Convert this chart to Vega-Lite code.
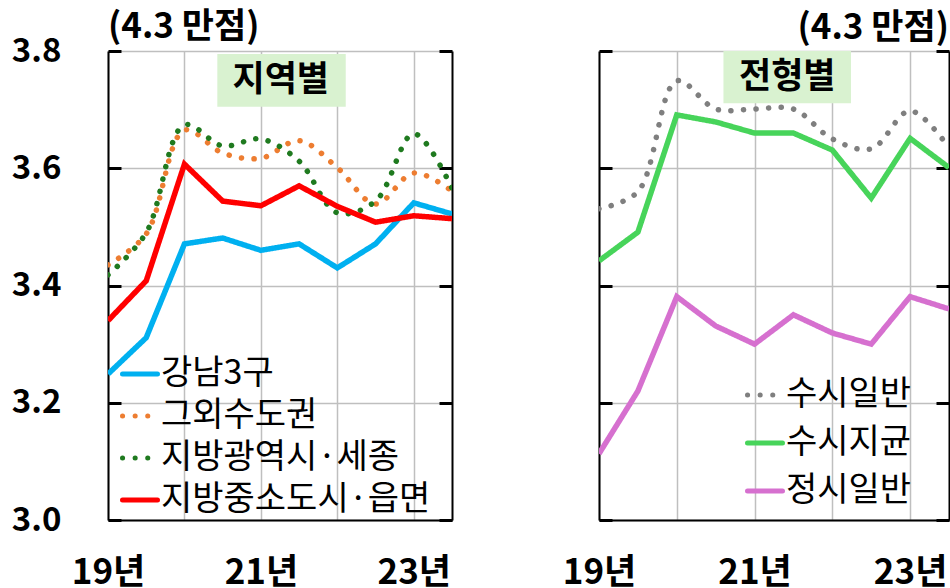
{
  "$schema": "https://vega.github.io/schema/vega-lite/v6.json",
  "background": "white",
  "padding": {"left": 11, "top": 10, "right": 0, "bottom": 0},
  "bounds": "flush",
  "spacing": 147,
  "resolve": {"scale": {"color": "independent", "strokeDash": "independent"}, "legend": {"color": "independent", "strokeDash": "independent"}},
  "config": {
    "view": {"stroke": null},
    "font": "Noto Sans CJK KR",
    "axis": {"labelFont": "Noto Sans CJK KR", "labelFontWeight": "bold", "labelFontSize": 33, "labelColor": "black", "domainColor": "black", "domainWidth": 2, "tickColor": "black", "tickWidth": 3, "gridColor": "#BFBFBF", "gridWidth": 1.5, "title": null},
    "title": {"font": "Noto Sans CJK KR", "fontSize": 35, "fontWeight": "bold", "color": "black", "frame": "group"},
    "legend": {"labelFont": "Noto Sans CJK KR", "labelFontSize": 34, "labelFontWeight": "normal", "labelColor": "black", "symbolType": "stroke", "symbolStrokeWidth": 5, "symbolSize": 1225, "labelOffset": 1, "padding": 0, "labelLimit": 400, "title": null}
  },
  "datasets": {
    "region": [
      {"t": 2019, "s": "강남3구", "v": 3.249}, {"t": 2019.5, "s": "강남3구", "v": 3.311}, {"t": 2020, "s": "강남3구", "v": 3.471}, {"t": 2020.5, "s": "강남3구", "v": 3.481}, {"t": 2021, "s": "강남3구", "v": 3.460}, {"t": 2021.5, "s": "강남3구", "v": 3.471}, {"t": 2022, "s": "강남3구", "v": 3.430}, {"t": 2022.5, "s": "강남3구", "v": 3.471}, {"t": 2023, "s": "강남3구", "v": 3.541}, {"t": 2023.5, "s": "강남3구", "v": 3.522},
      {"t": 2019, "s": "그외수도권", "v": 3.435}, {"t": 2019.5, "s": "그외수도권", "v": 3.488}, {"t": 2020, "s": "그외수도권", "v": 3.665}, {"t": 2020.5, "s": "그외수도권", "v": 3.626}, {"t": 2021, "s": "그외수도권", "v": 3.617}, {"t": 2021.5, "s": "그외수도권", "v": 3.647}, {"t": 2022, "s": "그외수도권", "v": 3.601}, {"t": 2022.5, "s": "그외수도권", "v": 3.539}, {"t": 2023, "s": "그외수도권", "v": 3.592}, {"t": 2023.5, "s": "그외수도권", "v": 3.561},
      {"t": 2019, "s": "지방광역시·세종", "v": 3.418}, {"t": 2019.5, "s": "지방광역시·세종", "v": 3.490}, {"t": 2020, "s": "지방광역시·세종", "v": 3.674}, {"t": 2020.5, "s": "지방광역시·세종", "v": 3.638}, {"t": 2021, "s": "지방광역시·세종", "v": 3.650}, {"t": 2021.5, "s": "지방광역시·세종", "v": 3.612}, {"t": 2022, "s": "지방광역시·세종", "v": 3.524}, {"t": 2022.5, "s": "지방광역시·세종", "v": 3.544}, {"t": 2023, "s": "지방광역시·세종", "v": 3.659}, {"t": 2023.5, "s": "지방광역시·세종", "v": 3.566},
      {"t": 2019, "s": "지방중소도시·읍면", "v": 3.340}, {"t": 2019.5, "s": "지방중소도시·읍면", "v": 3.408}, {"t": 2020, "s": "지방중소도시·읍면", "v": 3.607}, {"t": 2020.5, "s": "지방중소도시·읍면", "v": 3.544}, {"t": 2021, "s": "지방중소도시·읍면", "v": 3.536}, {"t": 2021.5, "s": "지방중소도시·읍면", "v": 3.570}, {"t": 2022, "s": "지방중소도시·읍면", "v": 3.535}, {"t": 2022.5, "s": "지방중소도시·읍면", "v": 3.508}, {"t": 2023, "s": "지방중소도시·읍면", "v": 3.519}, {"t": 2023.5, "s": "지방중소도시·읍면", "v": 3.514}
    ],
    "type": [
      {"t": 2019, "s": "수시일반", "v": 3.531}, {"t": 2019.5, "s": "수시일반", "v": 3.560}, {"t": 2020, "s": "수시일반", "v": 3.749}, {"t": 2020.5, "s": "수시일반", "v": 3.701}, {"t": 2021, "s": "수시일반", "v": 3.701}, {"t": 2021.5, "s": "수시일반", "v": 3.701}, {"t": 2022, "s": "수시일반", "v": 3.650}, {"t": 2022.5, "s": "수시일반", "v": 3.633}, {"t": 2023, "s": "수시일반", "v": 3.698}, {"t": 2023.5, "s": "수시일반", "v": 3.635},
      {"t": 2019, "s": "수시지균", "v": 3.442}, {"t": 2019.5, "s": "수시지균", "v": 3.491}, {"t": 2020, "s": "수시지균", "v": 3.691}, {"t": 2020.5, "s": "수시지균", "v": 3.679}, {"t": 2021, "s": "수시지균", "v": 3.660}, {"t": 2021.5, "s": "수시지균", "v": 3.660}, {"t": 2022, "s": "수시지균", "v": 3.631}, {"t": 2022.5, "s": "수시지균", "v": 3.549}, {"t": 2023, "s": "수시지균", "v": 3.651}, {"t": 2023.5, "s": "수시지균", "v": 3.601},
      {"t": 2019, "s": "정시일반", "v": 3.113}, {"t": 2019.5, "s": "정시일반", "v": 3.220}, {"t": 2020, "s": "정시일반", "v": 3.381}, {"t": 2020.5, "s": "정시일반", "v": 3.331}, {"t": 2021, "s": "정시일반", "v": 3.300}, {"t": 2021.5, "s": "정시일반", "v": 3.350}, {"t": 2022, "s": "정시일반", "v": 3.319}, {"t": 2022.5, "s": "정시일반", "v": 3.300}, {"t": 2023, "s": "정시일반", "v": 3.381}, {"t": 2023.5, "s": "정시일반", "v": 3.360}
    ]
  },
  "hconcat": [
    {
      "width": 344,
      "height": 469,
      "title": {"text": "(4.3 만점)", "anchor": "start", "offset": -10},
      "resolve": {"axis": {"x": "independent", "y": "independent"}},
      "layer": [
        {
          "data": {"values": [{}]},
          "mark": {"type": "rect", "color": "#D9F2D0"},
          "encoding": {
            "x": {"datum": 2020.43, "type": "quantitative", "scale": {"domain": [2019, 2023.5], "nice": false, "zero": false}, "axis": null},
            "x2": {"datum": 2022.11},
            "y": {"datum": 3.795, "type": "quantitative", "scale": {"domain": [3, 3.8], "nice": false, "zero": false}, "axis": null},
            "y2": {"datum": 3.705}
          }
        },
        {
          "data": {"values": [{}]},
          "mark": {"type": "text", "text": "지역별", "fontSize": 35, "fontWeight": "bold", "color": "black", "font": "Noto Sans CJK KR"},
          "encoding": {
            "x": {"datum": 2021.26, "type": "quantitative", "axis": null},
            "y": {"datum": 3.75, "type": "quantitative", "axis": null}
          }
        },
        {
          "data": {"name": "region"},
          "transform": [{"filter": {"field": "s", "oneOf": ["그외수도권", "지방광역시·세종"]}}],
          "mark": {"type": "line", "strokeWidth": 5.5, "strokeCap": "round", "interpolate": "catmull-rom", "clip": true},
          "encoding": {
            "x": {"field": "t", "type": "quantitative", "scale": {"domain": [2019, 2023.5], "nice": false, "zero": false}, "axis": {"values": [2019, 2020, 2021, 2022, 2023], "grid": true, "ticks": false, "labelExpr": "datum.value % 2 == 1 ? (datum.value - 2000) + '년' : ''", "labelFlush": false, "labelOverlap": false, "labelFontSize": 35, "labelPadding": 35, "title": null}},
            "y": {"field": "v", "type": "quantitative", "scale": {"domain": [3, 3.8], "nice": false, "zero": false}, "axis": {"values": [3, 3.2, 3.4, 3.6, 3.8], "format": ".1f", "grid": true, "tickSize": -13, "labelPadding": 60, "title": null}},
            "color": {"field": "s", "type": "nominal", "scale": {"domain": ["강남3구", "그외수도권", "지방광역시·세종", "지방중소도시·읍면"], "range": ["#00B0F0", "#ED7D31", "#1F7A1F", "#FF0000"]}, "legend": {"orient": "none", "legendX": 12, "legendY": 303, "rowPadding": 5, "encode": {"symbols": {"update": {"strokeCap": {"value": "round"}}}}}},
            "strokeDash": {"field": "s", "type": "nominal", "scale": {"domain": ["강남3구", "그외수도권", "지방광역시·세종", "지방중소도시·읍면"], "range": [[1, 0], [0.1, 12.5], [0.1, 12.5], [1, 0]]}, "legend": {"orient": "none", "legendX": 12, "legendY": 303, "rowPadding": 5, "encode": {"symbols": {"update": {"strokeCap": {"value": "round"}}}}}}
          }
        },
        {
          "data": {"name": "region"},
          "transform": [{"filter": {"field": "s", "oneOf": ["강남3구", "지방중소도시·읍면"]}}],
          "mark": {"type": "line", "strokeWidth": 5.5, "interpolate": "linear", "clip": true},
          "encoding": {
            "x": {"field": "t", "type": "quantitative", "axis": null},
            "y": {"field": "v", "type": "quantitative", "axis": {"orient": "right", "values": [3, 3.2, 3.4, 3.6, 3.8], "labels": false, "grid": false, "tickSize": -13, "title": null}},
            "color": {"field": "s", "type": "nominal", "legend": {"orient": "none", "legendX": 12, "legendY": 303, "rowPadding": 5, "encode": {"symbols": {"update": {"strokeCap": {"value": "round"}}}}}},
            "strokeDash": {"field": "s", "type": "nominal", "legend": {"orient": "none", "legendX": 12, "legendY": 303, "rowPadding": 5, "encode": {"symbols": {"update": {"strokeCap": {"value": "round"}}}}}}
          }
        }
      ]
    },
    {
      "width": 350,
      "height": 469,
      "title": {"text": "(4.3 만점)", "anchor": "end", "offset": 4},
      "resolve": {"axis": {"x": "independent", "y": "independent"}},
      "layer": [
        {
          "data": {"values": [{}]},
          "mark": {"type": "rect", "color": "#D9F2D0"},
          "encoding": {
            "x": {"datum": 2020.6, "type": "quantitative", "scale": {"domain": [2019, 2023.5], "nice": false, "zero": false}, "axis": null},
            "x2": {"datum": 2022.24},
            "y": {"datum": 3.8, "type": "quantitative", "scale": {"domain": [3, 3.8], "nice": false, "zero": false}, "axis": null},
            "y2": {"datum": 3.711}
          }
        },
        {
          "data": {"values": [{}]},
          "mark": {"type": "text", "text": "전형별", "fontSize": 35, "fontWeight": "bold", "color": "black", "font": "Noto Sans CJK KR"},
          "encoding": {
            "x": {"datum": 2021.42, "type": "quantitative", "axis": null},
            "y": {"datum": 3.756, "type": "quantitative", "axis": null}
          }
        },
        {
          "data": {"name": "type"},
          "transform": [{"filter": {"field": "s", "equal": "수시일반"}}],
          "mark": {"type": "line", "strokeWidth": 5.5, "strokeCap": "round", "interpolate": "catmull-rom", "clip": true},
          "encoding": {
            "x": {"field": "t", "type": "quantitative", "scale": {"domain": [2019, 2023.5], "nice": false, "zero": false}, "axis": {"values": [2019, 2020, 2021, 2022, 2023], "grid": true, "ticks": false, "labelExpr": "datum.value % 2 == 1 ? (datum.value - 2000) + '년' : ''", "labelFlush": false, "labelOverlap": false, "labelFontSize": 35, "labelPadding": 35, "title": null}},
            "y": {"field": "v", "type": "quantitative", "scale": {"domain": [3, 3.8], "nice": false, "zero": false}, "axis": {"values": [3, 3.2, 3.4, 3.6, 3.8], "labels": false, "grid": true, "tickSize": -13, "title": null}},
            "color": {"field": "s", "type": "nominal", "scale": {"domain": ["수시일반", "수시지균", "정시일반"], "range": ["#7F7F7F", "#47D45A", "#D670CF"]}, "legend": {"orient": "none", "legendX": 146, "legendY": 324, "rowPadding": 11, "encode": {"symbols": {"update": {"strokeCap": {"value": "round"}}}}}},
            "strokeDash": {"field": "s", "type": "nominal", "scale": {"domain": ["수시일반", "수시지균", "정시일반"], "range": [[0.1, 12.5], [1, 0], [1, 0]]}, "legend": {"orient": "none", "legendX": 146, "legendY": 324, "rowPadding": 11, "encode": {"symbols": {"update": {"strokeCap": {"value": "round"}}}}}}
          }
        },
        {
          "data": {"name": "type"},
          "transform": [{"filter": {"field": "s", "oneOf": ["수시지균", "정시일반"]}}],
          "mark": {"type": "line", "strokeWidth": 5.5, "interpolate": "linear", "clip": true},
          "encoding": {
            "x": {"field": "t", "type": "quantitative", "axis": null},
            "y": {"field": "v", "type": "quantitative", "axis": {"orient": "right", "values": [3, 3.2, 3.4, 3.6, 3.8], "labels": false, "grid": false, "tickSize": -13, "title": null}},
            "color": {"field": "s", "type": "nominal", "legend": {"orient": "none", "legendX": 146, "legendY": 324, "rowPadding": 11, "encode": {"symbols": {"update": {"strokeCap": {"value": "round"}}}}}},
            "strokeDash": {"field": "s", "type": "nominal", "legend": {"orient": "none", "legendX": 146, "legendY": 324, "rowPadding": 11, "encode": {"symbols": {"update": {"strokeCap": {"value": "round"}}}}}}
          }
        }
      ]
    }
  ]
}
